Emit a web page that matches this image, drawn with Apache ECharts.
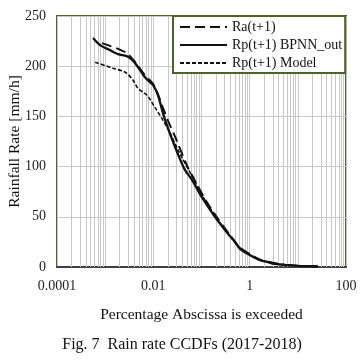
<!DOCTYPE html>
<html>
<head>
<meta charset="utf-8">
<script src="https://cdn.jsdelivr.net/npm/echarts@6/dist/echarts.min.js"></script>
<style>
    html, body { margin: 0; padding: 0; background: #fff; }
    #chart { width: 364px; height: 361px; }
</style>
</head>
<body>
<div id="chart"></div>
<script>
/* ===== 数据 ===== */
const yTicks = [0, 50, 100, 150, 200, 250];
const xTickLabels = ["0.0001", "0.01", "1", "100"];
const seriesNames = ["Ra(t+1)", "Rp(t+1) BPNN_out", "Rp(t+1) Model"];

// Ra(t+1) - measured
const raPct  = [0.00086, 0.0013, 0.0019, 0.0028, 0.0042, 0.0067, 0.01, 0.0125, 0.016, 0.02, 0.03, 0.05, 0.075, 0.12, 0.22, 0.4, 0.6, 1, 1.6, 2.5, 4, 10, 26];
const raRate = [223, 220, 217, 213, 204, 191, 182, 172, 158, 146, 127, 101, 85, 67, 48, 31, 20, 13, 7.5, 5, 3, 1.3, 0.5];

// Rp(t+1) BPNN_out
const bpPct  = [0.00056, 0.00078, 0.00126, 0.00185, 0.0028, 0.0035, 0.0042, 0.0055, 0.0067, 0.0085, 0.01, 0.0125, 0.0159, 0.0192, 0.028, 0.045, 0.063, 0.1, 0.19, 0.355, 0.5, 0.63, 1, 1.61, 2.3, 3.3, 6, 10, 26];
const bpRate = [228, 221, 216, 212, 210, 207, 203, 195, 189, 184, 181, 171, 153, 141, 120, 97, 87, 70, 50, 33, 25, 18, 12, 7, 5, 3, 1.8, 1.2, 0.5];

// Rp(t+1) Model
const mdPct  = [0.00062, 0.00145, 0.0026, 0.0038, 0.0048, 0.0074, 0.0108, 0.0159, 0.022, 0.033, 0.055, 0.075, 0.12, 0.22, 0.4, 0.6, 1, 1.6, 2.5, 4, 10, 26];
const mdRate = [204, 198, 194, 186, 178, 171, 159, 146, 134, 116, 96, 84, 66, 47, 30, 20, 12.5, 7, 5, 3, 1.3, 0.5];

/* ===== 辅助 ===== */
const FONT = "Liberation Serif";
const GREEN = "#4f6228";
const GRID_GRAY = "#c8c8c8";

function zip(xs, ys) {
    return xs.map((x, i) => [x, ys[i]]);
}

// 对数轴次网格线 (2..9 每个十进制), 画在隐藏的线性轴 (log10 空间) 上
const minorLines = [];
for (let e = -4; e < 2; e++) {
    for (let k = 2; k <= 9; k++) {
        minorLines.push({ xAxis: e + Math.log10(k) });
    }
}

/* ===== 图表 ===== */
const chart = echarts.init(document.getElementById("chart"));

const option = {
    animation: false,
    backgroundColor: "#fff",
    textStyle: { fontFamily: FONT },
    grid: {
        left: 57, right: 18, top: 16, bottom: 94,
        outerBoundsMode: "none",
        containLabel: false,
        show: true,
        borderColor: GREEN,
        borderWidth: 2,
        backgroundColor: "transparent",
    },
    legend: {
        data: seriesNames,
        orient: "vertical",
        left: 173,
        top: 16,
        z: 10,
        itemWidth: 47,
        itemHeight: 14,
        itemGap: 4,
        padding: [4, 3, 3, 6],
        backgroundColor: "#fff",
        borderColor: GREEN,
        borderWidth: 2,
        itemStyle: { opacity: 0 },
        textStyle: { fontFamily: FONT, fontSize: 14, color: "#111" },
    },
    xAxis: [
        {
            type: "log",
            logBase: 10,
            min: 0.0001,
            max: 100,
            name: "Percentage Abscissa is exceeded",
            nameLocation: "middle",
            nameGap: 40,
            nameMoveOverlap: false,
            nameTextStyle: { fontFamily: FONT, fontSize: 15.5, color: "#111" },
            axisLine: { show: true, onZero: false, lineStyle: { color: "#404040", width: 2 } },
            axisTick: { show: false },
            axisLabel: {
                fontFamily: FONT, fontSize: 14, color: "#222", margin: 12,
                formatter: v => {
                    const e = Math.round(Math.log10(v));
                    const idx = (e + 4) / 2;
                    return Number.isInteger(idx) ? xTickLabels[idx] : "";
                },
            },
            splitLine: { show: true, lineStyle: { color: GRID_GRAY, width: 1 } },
        },
        {
            type: "value",
            min: -4,
            max: 2,
            show: false,
        },
    ],
    yAxis: {
        type: "value",
        min: yTicks[0],
        max: yTicks[yTicks.length - 1],
        interval: 50,
        name: "Rainfall Rate [mm/h]",
        nameLocation: "middle",
        nameGap: 34,
        nameMoveOverlap: false,
        nameTextStyle: { fontFamily: FONT, fontSize: 15.5, color: "#111" },
        axisLine: { show: false },
        axisTick: { show: false },
        axisLabel: { fontFamily: FONT, fontSize: 14, color: "#222", margin: 11 },
        splitLine: { show: true, lineStyle: { color: GRID_GRAY, width: 1 } },
    },
    series: [
        {
            name: "_grid",
            type: "line",
            xAxisIndex: 1,
            data: [],
            silent: true,
            z: 1,
            markLine: {
                silent: true,
                z: 1,
                symbol: "none",
                label: { show: false },
                lineStyle: { color: GRID_GRAY, width: 1, type: "solid" },
                data: minorLines,
            },
        },
        {
            name: seriesNames[0],
            type: "line",
            data: zip(raPct, raRate),
            symbol: "none",
            smooth: 0.3,
            z: 3,
            lineStyle: { color: "#111", width: 2, type: [10, 5] },
            itemStyle: { color: "#111" },
        },
        {
            name: seriesNames[1],
            type: "line",
            data: zip(bpPct, bpRate),
            symbol: "none",
            smooth: 0.3,
            z: 4,
            lineStyle: { color: "#111", width: 2.3, type: "solid" },
            itemStyle: { color: "#111" },
        },
        {
            name: seriesNames[2],
            type: "line",
            data: zip(mdPct, mdRate),
            symbol: "none",
            smooth: 0.3,
            z: 3,
            lineStyle: { color: "#111", width: 1.6, type: [4, 2] },
            itemStyle: { color: "#111" },
        },
    ],
    graphic: [
        {
            type: "text",
            left: "center",
            top: 337,
            style: {
                text: "Fig. 7  Rain rate CCDFs (2017-2018)",
                font: `16px "${FONT}"`,
                fill: "#111",
            },
        },
    ],
};

chart.setOption(option);
</script>
</body>
</html>
